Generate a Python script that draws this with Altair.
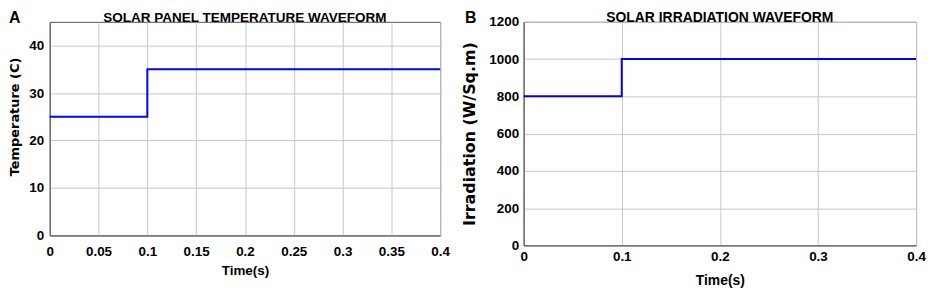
import altair as alt
import pandas as pd

# ---- data ----
time_a = [0.0, 0.1, 0.4]
temperature = [25, 35, 35]
time_b = [0.0, 0.1, 0.4]
irradiation = [800, 1000, 1000]

x_ticks_a = [0, 0.05, 0.1, 0.15, 0.2, 0.25, 0.3, 0.35, 0.4]
y_ticks_a = [0, 10, 20, 30, 40]
x_ticks_b = [0, 0.1, 0.2, 0.3, 0.4]
y_ticks_b = [0, 200, 400, 600, 800, 1000, 1200]

title_a = "SOLAR PANEL TEMPERATURE WAVEFORM"
title_b = "SOLAR IRRADIATION WAVEFORM"
ytitle_a = "Temperature (C)"
ytitle_b = "Irradiation (W/Sq.m)"
xtitle = "Time(s)"

FONT = "Liberation Sans"
VFONT = "DejaVu Sans"
GRID = "#c8c8c8"
FRAME = "#555555"
BLUE = "#0000ff"

df_a = pd.DataFrame({"t": time_a, "v": temperature})
df_b = pd.DataFrame({"t": time_b, "v": irradiation})


def axis(values, title, fmt, pad, tpad, lsize, tfont, tsize, **extra):
    return alt.Axis(
        values=values,
        title=title,
        format=fmt,
        grid=True,
        gridColor=GRID,
        gridWidth=1,
        ticks=False,
        domainColor=FRAME,
        domainWidth=1,
        labelFont=FONT,
        labelFontWeight="bold",
        labelFontSize=lsize,
        labelColor="#000000",
        labelPadding=pad,
        titleFont=tfont,
        titleFontWeight="bold",
        titleFontSize=tsize,
        titleColor="#000000",
        titlePadding=tpad,
        labelOverlap=False,
        labelFlush=False,
        **extra,
    )


def panel(df, letter, xt, yt, ydom, ytitle, title, w, h, xpad, xtpad,
          xtsize, ypad, ytpad, ytsize, lx, tsize, ytitle_y=None):
    yextra = {}
    if ytitle_y is not None:
        yextra["titleY"] = ytitle_y
    line = alt.Chart(df).mark_line(
        interpolate="step-after", color=BLUE, strokeWidth=2
    ).encode(
        x=alt.X("t:Q", scale=alt.Scale(domain=[0, 0.4], nice=False),
                axis=axis(xt, xtitle, ".2~f", xpad, xtpad, 13.5, FONT, xtsize)),
        y=alt.Y("v:Q", scale=alt.Scale(domain=ydom, nice=False),
                axis=axis(yt, ytitle, "d", ypad, ytpad, 13.5, VFONT, ytsize,
                          **yextra)),
    )
    lab = alt.Chart(pd.DataFrame({"l": [letter]})).mark_text(
        font=FONT, fontWeight="bold", fontSize=16, align="left",
        baseline="alphabetic", color="#000000"
    ).encode(text="l:N", x=alt.value(lx), y=alt.value(1))
    ttl = alt.Chart(pd.DataFrame({"l": [title]})).mark_text(
        font=FONT, fontWeight="bold", fontSize=tsize, align="center",
        baseline="alphabetic", color="#000000"
    ).encode(text="l:N", x=alt.value(w / 2), y=alt.value(0))
    return alt.layer(line, lab, ttl).properties(width=w, height=h)


pa = panel(df_a, "A", x_ticks_a, y_ticks_a, [0, 45], ytitle_a, title_a,
           393, 215, 9, 6, 13.5, 6, 7, 13, -41, 13.6, ytitle_y=0.443 * 215)
pb = panel(df_b, "B", x_ticks_b, y_ticks_b, [0, 1200], ytitle_b, title_b,
           395, 225, 4, 11, 14, 5, 11, 16, -59, 14)

chart = alt.hconcat(pa, pb, spacing=84, bounds="flush").configure_view(
    stroke=FRAME, strokeWidth=1
).properties(padding={"left": 0, "top": 0, "right": 0, "bottom": 0})

chart.save("out.html", embed_options={"renderer": "svg", "actions": False})
